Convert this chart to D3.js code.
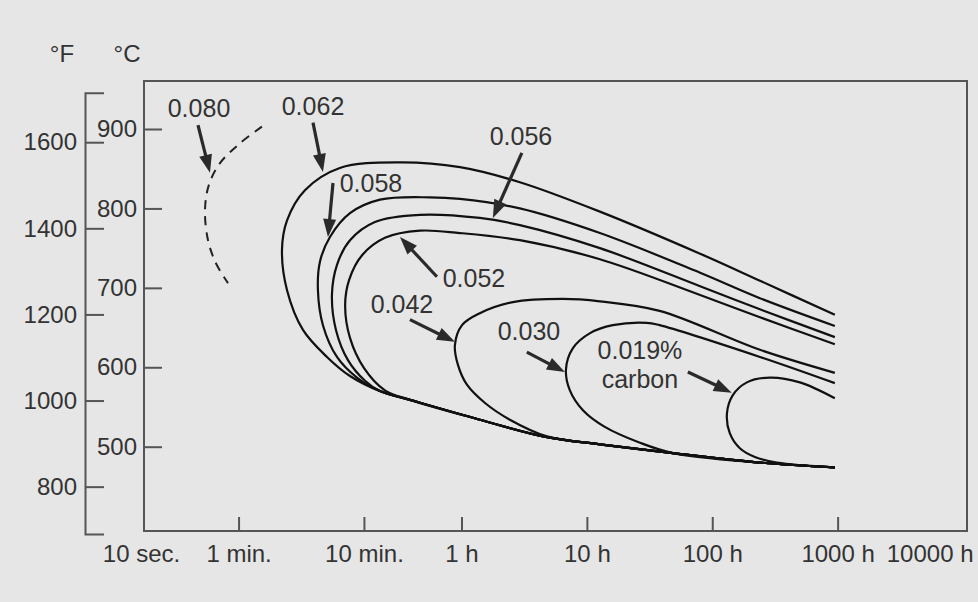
<!DOCTYPE html>
<html>
<head>
<meta charset="utf-8">
<script src="https://cdn.jsdelivr.net/npm/d3@7"></script>
<style>
  body { margin: 0; background: #e6e6e6; }
  svg { display: block; font-family: "Liberation Sans", Arial, Helvetica, sans-serif; }
</style>
</head>
<body>
<svg id="chart" width="978" height="602"></svg>
<script>
// time in hours, temperature in °C
const xTickValues = [10 / 3600, 1 / 60, 1 / 6, 1, 10, 100, 1000, 10000];
const xTickLabels = ["10 sec.", "1 min.", "10 min.", "1 h", "10 h", "100 h", "1000 h", "10000 h"];
const cTicks = [500, 600, 700, 800, 900];
const fTicks = [800, 1000, 1200, 1400, 1600];

// common lower branch the curves run into
const lowerEnvelope = [[0.129, 589], [0.224, 570], [0.388, 559], [1.40, 534], [4.80, 512],
  [12.7, 503], [48.5, 492], [240, 480], [950, 474]];

// each curve: upper branch from the right, round the nose, down to the envelope
const c062 = [[950, 666], [240, 709], [80, 743], [12.7, 796], [2.92, 833], [0.972, 852], [0.323, 858],
  [0.107, 851], [0.0564, 823], [0.0406, 785], [0.0370, 748], [0.0406, 697], [0.0544, 647], [0.0845, 613]];
const c058 = [[950, 652], [240, 687], [80, 719], [12.7, 769], [2.92, 800], [0.972, 812], [0.56, 814],
  [0.224, 811], [0.129, 794], [0.0893, 764], [0.0743, 733], [0.0716, 697], [0.0785, 653], [0.1016, 613],
  [0.1466, 587]];
const c056 = [[950, 638], [240, 673], [80, 702], [12.7, 750], [2.92, 779], [1.40, 788], [0.466, 792],
  [0.204, 783], [0.129, 760], [0.1016, 729], [0.0926, 691], [0.0997, 647], [0.1243, 609], [0.170, 583]];
const c052 = [[950, 629], [240, 663], [80, 691], [12.7, 736], [2.92, 760], [0.972, 769], [0.466, 772],
  [0.245, 763], [0.161, 741], [0.127, 710], [0.118, 678], [0.129, 637], [0.167, 599], [0.245, 571]];
const c042 = [[950, 593], [240, 622], [38, 671], [12.7, 683], [6.4, 686], [2.57, 682], [1.40, 668],
  [1.01, 653], [0.886, 628], [0.937, 603], [1.105, 578], [1.54, 555], [2.43, 534], [4.8, 513]];
const c030 = [[950, 580], [240, 613], [38, 653], [30, 656], [16.1, 653], [10.6, 643], [7.74, 624],
  [6.81, 597], [7.32, 571], [9.3, 546], [13.9, 525], [26.5, 505], [48.5, 492]];
const c019 = [[950, 561], [500, 581], [288, 587], [189, 581], [146, 565], [131, 542], [138, 517],
  [166, 498], [219, 487], [328, 480]];

const curves = [c062, c058, c056, c052, c042, c030, c019];

// 0.080 % carbon, dashed
const c080 = [[0.0256, 903], [0.0171, 882], [0.01185, 857], [0.00968, 830], [0.0090, 798],
  [0.00951, 760], [0.0110, 731], [0.01373, 706]];

const labelText = ["0.080", "0.062", "0.058", "0.056", "0.052", "0.042", "0.030", "0.019%", "carbon"];
const labelAt = [[0.00806, 915], [0.0654, 918], [0.1896, 821], [2.98, 880], [1.256, 701],
  [0.335, 668], [3.45, 634], [26.5, 610], [26.5, 574]];

const arrowFrom = [[0.00791, 905], [0.0654, 908], [0.0944, 832], [3.03, 870], [0.637, 714],
  [0.388, 660], [3.32, 619], [63.9, 594]];
const arrowTo = [[0.00986, 845], [0.0785, 846], [0.0861, 764], [1.78, 788], [0.323, 764],
  [0.886, 632], [6.68, 594], [143, 568]];

const svg = d3.select("#chart");
const frame = {left: 144, top: 81, right: 967, bottom: 531};

const x = d3.scaleLog().domain([10 / 3600, 10000]).range([141, 963]);
const yC = d3.scaleLinear().domain([500, 900]).range([446.7, 129]);
const yF = d3.scaleLinear().domain([690, 1715]).range([534, 92.7]);

const ink = "#333";

function styleAxis(g) {
  g.selectAll("path, line").attr("stroke", "#555").attr("stroke-width", 2);
  g.selectAll("text").attr("font-size", 24).attr("fill", ink)
    .attr("font-family", '"Liberation Sans", Arial, sans-serif');
}

// frame
svg.append("rect")
  .attr("x", frame.left).attr("y", frame.top)
  .attr("width", frame.right - frame.left).attr("height", frame.bottom - frame.top)
  .attr("fill", "none").attr("stroke", "#555").attr("stroke-width", 2);

// °F axis (outer)
svg.append("g")
  .attr("transform", "translate(85,0)")
  .call(d3.axisLeft(yF).tickValues(fTicks).tickFormat(d3.format("d"))
    .tickSizeInner(-19).tickSizeOuter(-19).tickPadding(8))
  .call(styleAxis);

// °C axis
svg.append("g")
  .attr("transform", `translate(${frame.left + 1},0)`)
  .call(d3.axisLeft(yC).tickValues(cTicks).tickFormat(d3.format("d"))
    .tickSizeInner(-17).tickSizeOuter(0).tickPadding(8))
  .call(g => g.select(".domain").remove())
  .call(styleAxis);

svg.append("text").attr("x", 62).attr("y", 62).attr("text-anchor", "middle")
  .attr("font-size", 24).attr("fill", ink).text("°F");
svg.append("text").attr("x", 127).attr("y", 62).attr("text-anchor", "middle")
  .attr("font-size", 24).attr("fill", ink).text("°C");

// time axis
const xAxis = svg.append("g")
  .attr("transform", `translate(0,${frame.bottom})`)
  .call(d3.axisBottom(x).tickValues(xTickValues).tickFormat((d, i) => xTickLabels[i])
    .tickSizeInner(-14).tickSizeOuter(0).tickPadding(14))
  .call(g => g.select(".domain").remove())
  .call(styleAxis);
const n = xTickValues.length;
xAxis.selectAll(".tick").filter((d, i) => i === 0 || i === n - 1).select("line").remove();
xAxis.selectAll(".tick").filter((d, i) => i === n - 1).select("text")
  .attr("text-anchor", "end").attr("x", frame.right + 6 - x(xTickValues[n - 1]));

// curves
const line = d3.line()
  .x(d => x(d[0]))
  .y(d => yC(d[1]))
  .curve(d3.curveCatmullRom.alpha(0.5));

svg.append("g").selectAll("path")
  .data(curves.map(c => {
    const last = c[c.length - 1][0];
    return c.concat(lowerEnvelope.filter(p => p[0] > last * 1.2));
  }))
  .join("path")
  .attr("d", line)
  .attr("fill", "none")
  .attr("stroke", "#111")
  .attr("stroke-width", 2.2);

svg.append("path")
  .datum(c080)
  .attr("d", line)
  .attr("fill", "none")
  .attr("stroke", "#222")
  .attr("stroke-width", 2)
  .attr("stroke-dasharray", "9,7");

// labels
svg.append("g").selectAll("text")
  .data(labelText)
  .join("text")
  .attr("x", (d, i) => x(labelAt[i][0]))
  .attr("y", (d, i) => yC(labelAt[i][1]))
  .attr("text-anchor", "middle")
  .attr("font-size", 25)
  .attr("fill", ink)
  .text(d => d);

// arrows
const arrows = svg.append("g");
arrowFrom.forEach((f, i) => {
  const x1 = x(f[0]), y1 = yC(f[1]);
  const x2 = x(arrowTo[i][0]), y2 = yC(arrowTo[i][1]);
  const len = Math.hypot(x2 - x1, y2 - y1);
  const ux = (x2 - x1) / len, uy = (y2 - y1) / len;
  const hl = 18, hw = 6.5;
  const bx = x2 - ux * hl, by = y2 - uy * hl;
  arrows.append("line")
    .attr("x1", x1).attr("y1", y1)
    .attr("x2", bx + ux * 3).attr("y2", by + uy * 3)
    .attr("stroke", "#2a2a2a").attr("stroke-width", 3.2);
  arrows.append("path")
    .attr("d", `M${x2},${y2}L${bx - uy * hw},${by + ux * hw}L${bx + uy * hw},${by - ux * hw}Z`)
    .attr("fill", "#2a2a2a");
});
</script>
</body>
</html>
